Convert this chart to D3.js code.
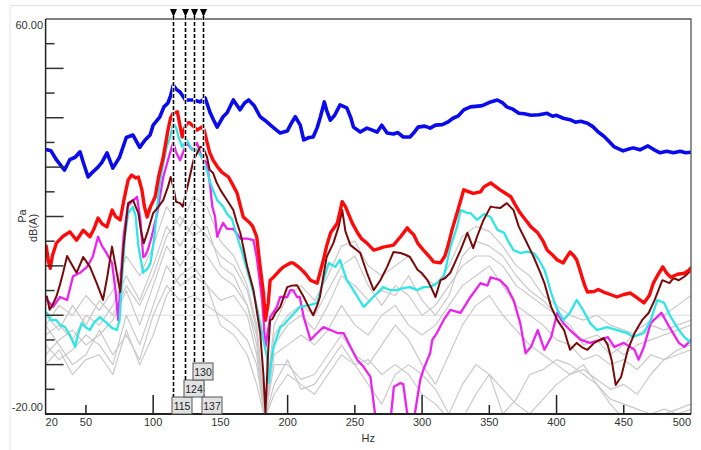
<!DOCTYPE html>
<html><head><meta charset="utf-8">
<script src="https://cdn.jsdelivr.net/npm/d3@7"></script>
<style>html,body{margin:0;padding:0;background:#fff;}svg{display:block;font-family:"Liberation Sans",Arial,sans-serif;}</style>
</head><body><svg id="c" width="701" height="450"></svg>
<script>
// ---- data ----
const xTicks = [20,50,100,150,200,250,300,350,400,450,500];
const xMajor = [100,200,300,400];
const xMinor = [50,150,250,350,450];
const yTicks = [-15,-10,-5,0,5,10,15,20,25,30,35,40,45,50,55];
const markerHz = [115,124,130,137];
const markerRow = [0,1,2,0];

const blueHz = [21,24,28,34,38,42,45.6,48,51.6,55,59,62,65.7,70,75,80,85,90,94,97.7,100,105,108,111,113,115,117,120,124,130,135,138.7,142.4,145,147.6,152,155,159.6,164.6,168,171,175,179.6,183,189,194.5,199.7,203,205.7,209.4,212,216,219,222,224.4,227.3,229,231.7,235,239,244,247,249,254,259,263,266.6,270,274,278.7,282,286,291,294,297,302,306,310,315,319,323,327,331,336,343.5,346,351,356,360,363,367,372,376,381,387,393,397,400,405,410,414,418,423,427,431,435,438,443,449.5,453,457,462,468,472,477,482,487,492,496,500];
const blueDb = [33.5,33.3,31.5,29.4,31.5,32,33.1,31,28,29,30,31,32.9,29.8,32,36,36.5,34,35.5,36.5,38.5,40.2,42.2,43,44.5,46.6,45.8,45.2,43.6,43.6,43.2,44,41,39.5,38.1,40.2,41,43.6,41.6,43,43.6,42.5,40.2,39.5,38.1,36.9,37.3,39,40.2,38.5,35.5,36,36.1,38,40.2,43.2,41.5,39.5,40.5,42.6,42,40,38.1,37.1,37.9,37.5,37.1,38.5,36.9,36.7,37,36.1,36.1,37,38.1,38.3,37.9,38.5,38.6,39.1,39.9,40.4,41.6,42.2,42.4,42.6,43.2,43.6,43,42.2,41.8,40.9,40.8,40.5,40.6,40.9,40.3,40.5,39.9,39.6,39.1,39.3,38.9,38.2,37.1,36.3,35.5,34.1,33.3,33.6,33.9,33.5,34.3,33.6,32.9,33.2,32.9,33.2,32.9,33];

const redHz = [20.5,22,23.5,25,28,33,38,43,48,53,56,59,62,65.6,69.5,72,75.5,78,81.4,84,87,89,91.6,93.5,95.5,98,101.5,104,107.5,111,113,115,118,121.6,123,125,127,129,132.6,136,138,140,142,144.6,148,151,156,159,162.5,165,167,172,174,177,179.5,182,183.5,185.6,187,189.5,194.5,197,202,204,209,213,217,222,226.6,229,232,237,240.6,243,245,248,252,255,259,264,268,271,275,278.7,284,289,291,293.8,297,301,305,308.6,313.7,317,319,322,326,331,335,338,343.5,346,351,355,358,362,366,369,373,377,381,386,390,393,397,400.6,405,407,410,413,415,417,419,421,423,428,431,435,440,445,450,455,460,465,469,472,475,479,482,485,490,495,498,500];
const redDb = [14,11,9.5,12,14.6,16,16.9,15.2,17.2,15.9,17.5,19.7,18.5,17.9,21.3,20,19.3,23,27.4,28.4,27.8,28,25.4,22,19.9,22,24,28,32,37.5,40,41,41.2,36.1,37.5,38.9,39,38.5,37.5,38.1,37.5,35.1,33,31.4,30,29,28,26.5,24.7,22,19.9,18.7,18,15.9,10,4.5,-1,2.5,7.1,7.7,9.2,9.8,10.6,10.6,9.6,8.5,7.1,6.5,11.2,14,16.7,18.7,23,22,20.7,18.7,16.7,15.5,14.6,13.2,13.5,13.8,14,14.2,15.9,17.7,17,16.3,14.5,13.2,12,10.8,10.6,12,13.8,17,20.7,25.4,25,24.7,25,26,26.8,26,25.4,24.7,24,22.5,20.7,19.3,17.9,16.7,15,13.2,12.2,11.2,10.6,11.5,12.8,12,11.2,9.5,7.7,6,4.7,4.8,5.2,4.7,4.2,3.7,4.2,4.5,3.5,2.5,4,6.5,8,9.8,8.5,7.7,8.3,8.5,9,9.6];

const maroonHz = [21,23,25,28,30.5,33,36,38,43,48,53,58,62.7,66,69.4,72,75.5,78,81.4,85,89,91,93,96,100,104,107.5,111,113,115,117,120,122,125,128,130,133,135,137,140,142,144.6,147,150,155,159.6,162,165,170,174.6,177,179.6,182,183.5,185.6,187,188.6,191,194.5,199.7,203,207,212,216,219,222,224,229,234,238,240.6,243,246.7,250,254,259,264,269,274,278.7,284,288,291,296.6,300,304,307,310,313.7,317,321,325,328.6,333.7,338,341,345.7,351,355,358,363,368,372,377,383,388,391,396,400.6,405.6,410,415,419,423,428,435,438,441,444,448,453,458,463.6,468.6,473,478.7,484,487,491,495,499];
const maroonDb = [3.8,1.1,2,3.8,6,8.6,12,11,8.6,11.8,9.8,6.5,3.1,8,13.9,10,4.7,14,22.7,23.3,20.7,17,14.6,17,20.7,22,23.3,26,28,26,23,22.7,22,25.4,29,31.4,33,34.1,34,32.1,29.5,28.8,27,25.4,23.3,21.3,19,16.5,9.8,5.1,1,-3.6,-12,-19.8,-7,-1,-0.8,0.5,1.7,5.7,6,6.1,3.7,1.5,0,2,3.7,11.8,14.6,18,21.3,17,14.2,13.5,12.6,8.6,5.1,7.1,9.8,12.8,12.6,12.2,11.8,9.2,8.5,7.1,5.5,3.7,7.1,7.5,8.6,11,13.2,16.7,13.6,16,19.3,22,21.8,21.7,22.7,21.3,17.9,15.2,11.8,8.6,6.5,1.7,-1,-3,-7,-5.6,-6.5,-7,-5.6,-4.6,-6,-9.1,-14.1,-12.5,-7,-3.6,-1,0.5,3.1,7.1,6.5,7.5,7.1,7.8,8.8];

const cyanHz = [21,24,28,31,34.5,38,42,44,47,50,53,56,60.5,63,65.6,69,73,75,77,79,81.4,85,87,89,92.6,96,98,101,103,105,107.5,110,112.6,115,117,119,121.6,125,129,132.6,136,140,142.5,145,147.6,152,155,158.6,162.5,166,169,172,176,179.6,182,184.6,186,187.5,189.5,194.5,197,202,207,209,217,222,226.6,230.6,235.5,239,241,244,248,252,256.6,261.6,266.6,271,276,281,286,291,296.6,301,306,311,316,318,321,326,328.6,333.7,336,341,346,351,356,361,364,368,373,378,383,387,391,393.5,396,400.6,405,410,415,419.6,425,430,437.6,445,452.6,457,465,470,475,480,485,491,495,500];
const cyanDb = [0.5,-1,-1,-2,-2.4,-4,-6.4,-4,-1.6,-2.5,-3,-1.5,-0.4,-1,-1.6,-2.5,-3,-1,8,16,20.7,22,20,14,8.6,9.5,10.6,16,22,27,30.8,34,36.1,38.9,38.1,36,34.1,35.5,33.5,33.5,32.1,29.4,26.8,25,23.3,22,20.5,19.5,15.9,13,10,7.1,3,-1.6,-5,-8.4,-13.7,-10,-6.5,-2.4,-2,-0.4,1,1.7,2.1,2.5,7.1,10.6,9.8,11.2,9.5,7.1,5.5,3.7,1.7,3.1,4.5,5.7,5.1,5.1,5.5,5.7,5.1,5.7,5.7,6.5,7.7,10,13.8,17.9,21.3,20.7,20.7,19.3,20.5,19.9,17.3,16.7,15,13.2,12.6,12.9,12.6,11.2,9.2,7,4.5,1.1,-1,0.5,3.1,1.1,-1.6,-3,-2.4,-3,-3.6,-4.4,-3.6,-1,3.1,2.5,-0.4,-3,-4.4,-5.6];

const magentaHz = [21,25.5,30.7,36,40.4,45.6,50.8,55,59,62,64,69.4,72,74,76,78,81,84,88,90.5,92.6,94,96,99,103,107.5,112.6,115,117,120,125,129,132.6,136,140,142.5,144,146,147.6,150,152,155,159.6,165,170,174.6,177,181,183.5,187,192,194.5,199.7,202,204,207,209,212,217,222,226.6,232,237,241.6,246.7,251.7,256.6,261.6,264,265.5,276.6,279,284,286,288,289.5,294,296.6,298.7,301,304,306,307.6,311,316,321,328.6,336,343.5,348.6,351,358,363,368,373,377,381,386,391,396,400.6,405,410,418,425,433,438,443,450,458,461,465,470,478,484,491,495,500];
const magentaDb = [3.1,1.7,3.7,3.1,7.9,8.6,9.8,11.8,15.9,14,13.2,10.6,5,-1,8,16,22,23,24,19.3,11.8,12,13.2,16,20.7,28,32.9,35.1,33,31.4,34.9,33.5,34.9,32.1,30.8,26,22,20,15.9,17.5,18.7,17.5,17.5,15.5,15.5,15.2,11.8,3.1,-6.4,-0.4,1.7,3.7,3.7,5.1,5.1,3.7,3.7,-0.4,-5,-3.6,-2.4,-3,-3.6,-3.6,-6.4,-9,-10.5,-12.5,-17.8,-21,-21,-14.5,-13.7,-14,-18,-21,-21,-16.5,-13,-11,-9,-7.7,-5,-3.6,-1,1.1,0.5,3.7,6.5,6,7.7,7.1,5.7,3.1,-1.6,-7.7,-6.4,-3,-7,-4.4,0.5,-1.6,-3,-5,-5.6,-5,-4.4,-6.4,-5.6,-7,-9,-6.4,-1.6,0.5,-2.4,-5.6,-6.4,-5];

const grayHz = [20,30,40,50,60,70,80,90,100,110,120,130,140,150,160,170,177,183,190,200,210,220,230,240,250,260,270,280,290,300,310,320,330,340,350,360,370,380,390,400,410,420,430,440,450,460,470,480,490,500];
const gray1 = [-2,2,0,4,1,5,12,8,14,22,18,24,22,15,12,6,-2,-18,-2,4,6,3,8,14,15,10,8,10,12,8,6,10,16,18,17,14,10,8,4,2,0,-1,0,-2,-3,-4,-2,-3,-2,-1];
const gray2 = [-4,-2,-5,0,-2,2,8,3,10,18,14,19,16,12,10,5,-3,-20,-6,-2,0,-3,2,8,6,3,5,4,8,3,0,4,12,15,14,12,8,5,3,0,-3,-5,-4,-6,-8,-6,-5,-4,-3,-2];
const gray3 = [-8,-5,-3,-6,-4,-1,5,-2,6,14,10,14,12,8,6,2,-6,-21,-8,-6,-4,-6,-3,2,-2,-4,0,2,-2,-4,-2,2,6,8,10,6,2,0,-2,-5,-6,-9,-8,-10,-9,-11,-8,-9,-7,-6];
const gray4 = [-6,-9,-7,-4,-6,-10,0,-6,2,10,6,8,6,3,4,0,-8,-21,-10,-10,-13,-12,-8,-4,-8,-10,-6,-2,-5,-10,-14,-8,-2,2,4,0,-3,-6,-8,-10,-12,-11,-13,-15,-14,-16,-12,-9,-8,-7];
const gray5 = [-2,-6,-10,-8,-3,-8,-4,-9,0,6,3,4,2,0,-2,-5,-10,-21,-14,-9,-15,-14,-10,-6,-10,-14,-18,-12,-10,-12,-15,-20,-14,-10,-12,-20,-17,-12,-11,-9,-10,-12,-14,-17,-18,-19,-20,-20,-19,-18];
const gray6 = [0,-3,2,-2,3,0,6,2,8,16,20,16,18,10,8,2,-4,-20,-4,0,2,0,5,10,12,6,2,6,4,0,2,6,10,12,12,10,6,4,2,0,-2,-6,-5,-8,-6,-3,-1,0,2,4];
const gray7 = [-10,-7,-12,-9,-8,-12,-3,-10,-4,4,8,10,6,-2,-4,-8,-14,-21,-16,-12,-14,-16,-12,-8,-10,-9,-12,-10,-12,-16,-18,-21,-21,-16,-12,-15,-18,-20,-17,-14,-12,-10,-14,-18,-21,-21,-20,-19,-20,-19];

// ---- drawing ----
const svg = d3.select("#c");
const x = d3.scaleLinear().domain([20,500]).range([45.6,691]);
const y = d3.scaleLinear().domain([-20,60]).range([414,19]);

// outer frame
svg.append("path").attr("d","M10,451 V5.5 H701").attr("fill","none").attr("stroke","#e4e4e4").attr("stroke-width",1);

svg.append("clipPath").attr("id","pc").append("rect")
  .attr("x",x(20)).attr("y",y(60)).attr("width",x(500)-x(20)).attr("height",y(-20)-y(60));

// zero line
svg.append("line").attr("x1",x(20)).attr("x2",x(500)).attr("y1",y(0)).attr("y2",y(0))
  .attr("stroke","#dcdcdc").attr("stroke-width",1);

const g = svg.append("g").attr("clip-path","url(#pc)");
const line = d3.line().x(d=>x(d[0])).y(d=>y(d[1]));
function draw(hz, db, color, w){
  g.append("path").datum(hz.map((f,i)=>[f,db[i]])).attr("d",line)
    .attr("fill","none").attr("stroke",color).attr("stroke-width",w)
    .attr("stroke-linejoin","round").attr("stroke-linecap","round");
}
[gray1,gray2,gray3,gray4,gray5,gray6,gray7].forEach(s=>draw(grayHz,s,"#c9c9c9",1.2));
draw(magentaHz,magentaDb,"#ee22ee",2.3);
draw(cyanHz,cyanDb,"#2ee6e6",2.3);
draw(maroonHz,maroonDb,"#7a0a0a",2);
draw(redHz,redDb,"#ff0a0a",3.4);
draw(blueHz,blueDb,"#0a0aee",3.6);

// plot border top/right
svg.append("path").attr("d",`M${x(20)},${y(60)} H${x(500)} V${y(-20)}`)
  .attr("fill","none").attr("stroke","#555").attr("stroke-width",1.3);
// axes lines
svg.append("line").attr("x1",x(20)).attr("x2",x(20)).attr("y1",y(60)).attr("y2",y(-20)).attr("stroke","#222").attr("stroke-width",1.5);
svg.append("line").attr("x1",x(20)-0.5).attr("x2",x(500)).attr("y1",y(-20)).attr("y2",y(-20)).attr("stroke","#222").attr("stroke-width",2);

// y ticks
yTicks.forEach(v=>{
  const len = (v%10===0)?18:9;
  svg.append("line").attr("x1",x(20)).attr("x2",x(20)+len).attr("y1",y(v)).attr("y2",y(v))
    .attr("stroke","#333").attr("stroke-width",1.5);
});
// x ticks
xMajor.forEach(f=>svg.append("line").attr("x1",x(f)).attr("x2",x(f)).attr("y1",y(-20)).attr("y2",y(-20)-19).attr("stroke","#222").attr("stroke-width",1.5));
xMinor.forEach(f=>svg.append("line").attr("x1",x(f)).attr("x2",x(f)).attr("y1",y(-20)).attr("y2",y(-20)-9).attr("stroke","#222").attr("stroke-width",1.5));

// x tick labels
xTicks.forEach((f,i)=>{
  svg.append("text").attr("x",x(f)).attr("y",y(-20)+12)
    .attr("text-anchor", i===0?"start":(i===xTicks.length-1?"end":"middle"))
    .attr("font-size",11).attr("fill","#333").text(f);
});
svg.append("text").attr("x",(x(20)+x(500))/2).attr("y",442).attr("text-anchor","middle")
  .attr("font-size",11).attr("fill","#333").text("Hz");
// y labels
svg.append("text").attr("x",43).attr("y",y(60)+10).attr("text-anchor","end").attr("font-size",11).attr("fill","#333").text("60.00");
svg.append("text").attr("x",43).attr("y",y(-20)-3).attr("text-anchor","end").attr("font-size",11).attr("fill","#333").text("-20.00");
svg.append("text").attr("transform","translate(26,216) rotate(-90)").attr("text-anchor","middle").attr("font-size",11).attr("fill","#333").text("Pa");
svg.append("text").attr("transform","translate(37,228) rotate(-90)").attr("text-anchor","middle").attr("font-size",11).attr("fill","#333").text("dB(A)");

// markers
const boxW = 20, boxH = 17;
markerHz.forEach((f,i)=>{
  const mx = Math.round(x(f))+0.5;
  const boxTop = y(-20) - boxH*(markerRow[i]+1);
  svg.append("line").attr("x1",mx).attr("x2",mx).attr("y1",10).attr("y2",boxTop).attr("stroke","#fff").attr("stroke-width",2.5);
  svg.append("line").attr("x1",mx).attr("x2",mx).attr("y1",10).attr("y2",boxTop).attr("stroke","#000").attr("stroke-width",1.6).attr("stroke-dasharray","4,2");
  svg.append("path").attr("d",`M${mx-3.5},9 L${mx+3.5},9 L${mx},17 Z`).attr("fill","#000");
});
markerHz.forEach((f,i)=>{
  const mx = Math.round(x(f))+0.5;
  const boxTop = y(-20) - boxH*(markerRow[i]+1);
  svg.append("rect").attr("x",mx-1.5).attr("y",boxTop).attr("width",boxW).attr("height",boxH)
    .attr("fill","#e2e2e2").attr("stroke","#555").attr("stroke-width",1);
  svg.append("text").attr("x",mx-1.5+boxW/2).attr("y",boxTop+boxH/2+4).attr("text-anchor","middle")
    .attr("font-size",10.5).attr("fill","#222").text(f);
});
</script></body></html>
